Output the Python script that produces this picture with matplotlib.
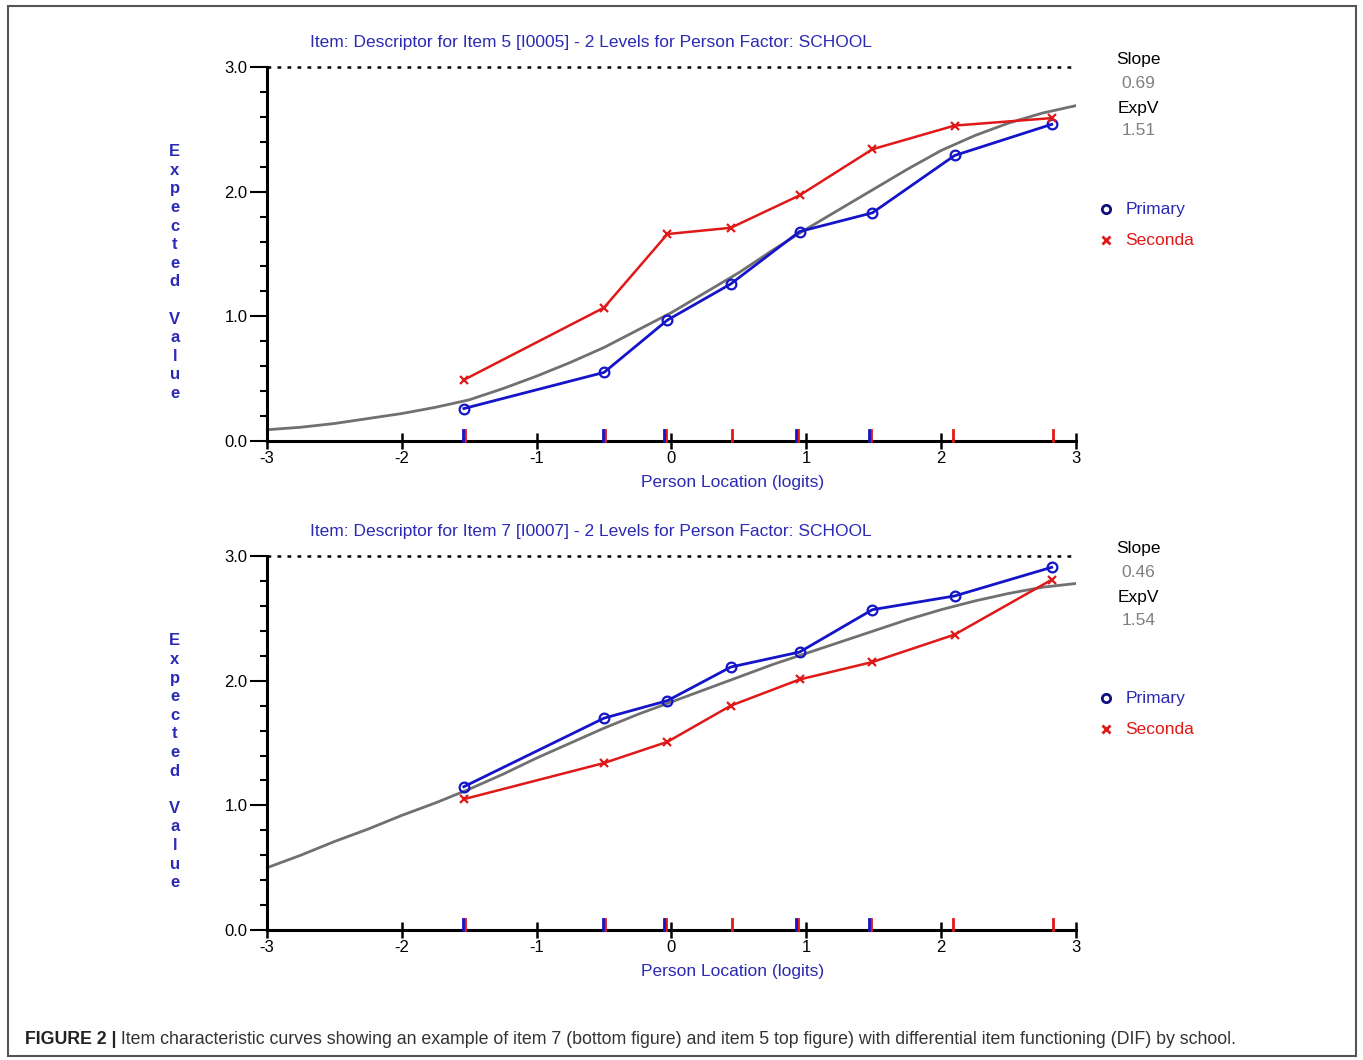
import matplotlib
matplotlib.use('Agg')
import matplotlib.pyplot as plt
from matplotlib.ticker import MultipleLocator
from matplotlib.patches import Rectangle

plt.rcParams['font.family'] = ['Liberation Sans', 'DejaVu Sans']

# class interval means (person location, logits)
loc_x = [-1.54, -0.50, -0.03, 0.44, 0.95, 1.49, 2.10, 2.82]

# item 5 (top)
i5_primary = [0.26, 0.55, 0.97, 1.26, 1.68, 1.83, 2.29, 2.54]
i5_second = [0.49, 1.07, 1.66, 1.71, 1.97, 2.34, 2.53, 2.59]
# item 7 (bottom)
i7_primary = [1.15, 1.70, 1.84, 2.11, 2.23, 2.57, 2.68, 2.91]
i7_second = [1.05, 1.34, 1.51, 1.80, 2.01, 2.15, 2.37, 2.81]

# model ICC
icc_x = [-3.0, -2.75, -2.5, -2.25, -2.0, -1.75, -1.5, -1.25, -1.0, -0.75, -0.5, -0.25, 0.0,
         0.25, 0.5, 0.75, 1.0, 1.25, 1.5, 1.75, 2.0, 2.25, 2.5, 2.75, 3.0]
i5_icc = [0.09, 0.11, 0.14, 0.18, 0.22, 0.27, 0.33, 0.42, 0.52, 0.63, 0.75, 0.89, 1.03,
          1.19, 1.35, 1.53, 1.70, 1.86, 2.02, 2.18, 2.33, 2.45, 2.55, 2.63, 2.69]
i7_icc = [0.50, 0.60, 0.71, 0.81, 0.92, 1.02, 1.13, 1.25, 1.38, 1.50, 1.62, 1.73, 1.83,
          1.93, 2.03, 2.13, 2.22, 2.31, 2.40, 2.49, 2.57, 2.64, 2.70, 2.75, 2.78]

# person location marks on the x axis
marks_blue = [-1.54, -0.50, -0.05, 0.93, 1.47]
marks_red = [-1.54, -0.50, -0.05, 0.44, 0.93, 1.47, 2.08, 2.82]

titles = ['Item: Descriptor for Item 5 [I0005] - 2 Levels for Person Factor: SCHOOL',
          'Item: Descriptor for Item 7 [I0007] - 2 Levels for Person Factor: SCHOOL']
slopes = ['0.69', '0.46']
expv = ['1.51', '1.54']
caption = ('Item characteristic curves showing an example of item 7 (bottom figure) and item 5 top figure) '
           'with differential item functioning (DIF) by school.')

blue = '#1414c8'
red = '#e01818'
txtblue = '#2a2ab4'

fig = plt.figure(figsize=(13.63, 10.60), dpi=100)
fig.patches.append(Rectangle((0.006, 0.004), 0.989, 0.99, transform=fig.transFigure,
                             fill=False, ec='#555555', lw=1.5))

panels = [(i5_primary, i5_second, i5_icc), (i7_primary, i7_second, i7_icc)]
bottoms = [0.584, 0.1226]
for n, (prim, sec, icc) in enumerate(panels):
    ax = fig.add_axes([0.1959, bottoms[n], 0.5935, 0.3528])
    ax.set_xlim(-3, 3)
    ax.set_ylim(0, 3)
    ax.axhline(3.0, color='black', ls=(0, (1.5, 2.5)), lw=1.8, clip_on=False)
    ax.plot(icc_x, icc, color='#707070', lw=2, zorder=2)
    ax.plot(loc_x, prim, color=blue, lw=2, marker='o', ms=7, mfc='none', mec=blue, mew=1.6, zorder=3)
    ax.plot(loc_x, sec, color=red, lw=1.8, marker='x', ms=6, mec=red, mew=1.6, zorder=3)
    for xm in marks_red:
        ax.plot([xm + 0.008, xm + 0.008], [0.0, 0.085], color=red, lw=2, clip_on=False, zorder=4)
    for xm in marks_blue:
        ax.plot([xm - 0.008, xm - 0.008], [0.0, 0.085], color=blue, lw=2, clip_on=False, zorder=4)

    for s in ['top', 'right']:
        ax.spines[s].set_visible(False)
    ax.spines['left'].set_linewidth(2.2)
    ax.spines['bottom'].set_linewidth(2.2)
    ax.set_xticks([-3, -2, -1, 0, 1, 2, 3])
    ax.set_xticklabels(['-3', '-2', '-1', '0', '1', '2', '3'])
    ax.set_yticks([0, 1, 2, 3])
    ax.set_yticklabels(['0.0', '1.0', '2.0', '3.0'])
    ax.yaxis.set_minor_locator(MultipleLocator(0.2))
    ax.tick_params(axis='x', direction='inout', length=12, width=1.8, labelsize=12, pad=1)
    ax.tick_params(axis='y', which='major', direction='out', length=12, width=1.5, labelsize=12, pad=2)
    ax.tick_params(axis='y', which='minor', direction='out', length=5, width=1.5)

    ax.text(0.40, 1.065, titles[n], transform=ax.transAxes, ha='center', va='center',
            color=txtblue, fontsize=12.5)
    ax.text(0.576, -0.11, 'Person Location (logits)', transform=ax.transAxes, ha='center',
            va='center', color=txtblue, fontsize=12.5)
    ax.text(-0.114, 0.45, '\n'.join('Expected Value'), transform=ax.transAxes,
            ha='center', va='center', color=txtblue, fontsize=12, fontweight='bold', linespacing=1.3)

    ax.text(1.077, 1.02, 'Slope', transform=ax.transAxes, ha='center', va='center', fontsize=12.5)
    ax.text(1.077, 0.957, slopes[n], transform=ax.transAxes, ha='center', va='center',
            fontsize=12.5, color='#808080')
    ax.text(1.077, 0.890, 'ExpV', transform=ax.transAxes, ha='center', va='center', fontsize=12.5)
    ax.text(1.077, 0.829, expv[n], transform=ax.transAxes, ha='center', va='center',
            fontsize=12.5, color='#808080')
    ax.plot([1.037], [0.620], transform=ax.transAxes, marker='o', ms=6, mfc='none', mec='#101080',
            mew=2, clip_on=False)
    ax.plot([1.037], [0.537], transform=ax.transAxes, marker='x', ms=6, mec=red, mew=2, clip_on=False)
    ax.text(1.061, 0.620, 'Primary', transform=ax.transAxes, ha='left', va='center',
            fontsize=12.5, color=txtblue)
    ax.text(1.061, 0.537, 'Seconda', transform=ax.transAxes, ha='left', va='center',
            fontsize=12.5, color=red)

bold = fig.text(0.018, 0.015, 'FIGURE 2 |', fontsize=12.8, fontweight='bold', va='baseline',
                color='#222222')
plt.annotate(' ' + caption, xy=(1, 0), xycoords=bold, va='bottom', ha='left', fontsize=12.8,
             color='#333333', annotation_clip=False)

plt.savefig('out.png', dpi=100)
